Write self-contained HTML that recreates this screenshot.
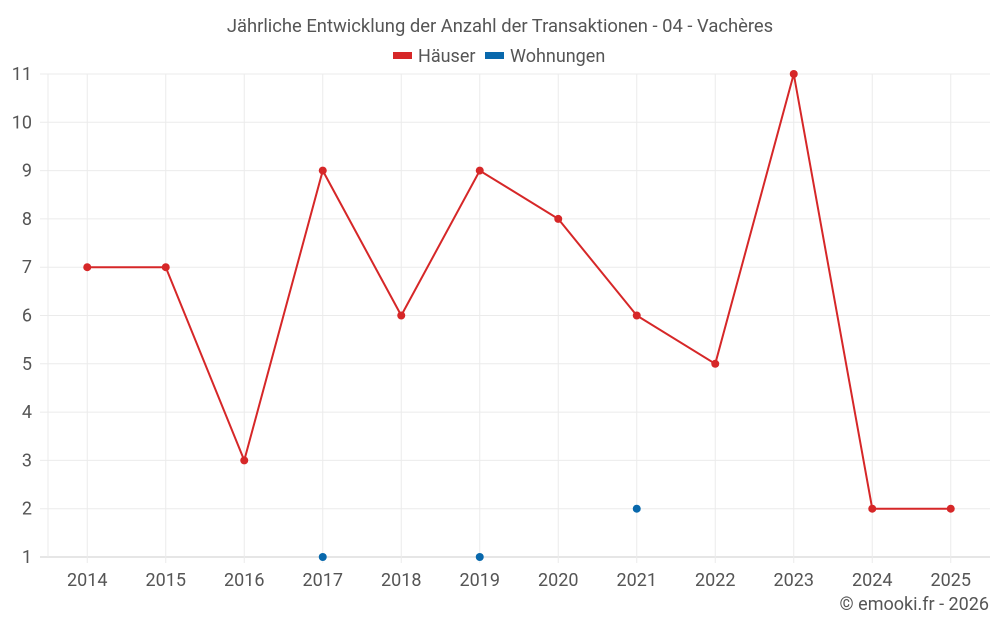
<!DOCTYPE html>
<html><head><meta charset="utf-8">
<style>
html,body{margin:0;padding:0;background:#fff;}
svg{display:block;font-family:"Roboto","Liberation Sans",sans-serif;}
</style></head>
<body>
<svg id="chart" width="1000" height="625">
<text x="500" y="32" text-anchor="middle" font-size="18.4" fill="#555">Jährliche Entwicklung der Anzahl der Transaktionen - 04 - Vachères</text>
<g>
<g><rect x="393" y="52" width="19" height="7" fill="#d62728"/><text x="418" y="62" font-size="18" fill="#555">Häuser</text></g>
<g><rect x="485" y="52" width="19" height="7" fill="#0868ac"/><text x="510" y="62" font-size="18" fill="#555">Wohnungen</text></g>
</g>
<g id="grid"></g>
<g id="axes"></g>
<g id="series"></g>
<text x="989" y="610" text-anchor="end" font-size="18" fill="#555">© emooki.fr - 2026</text>
</svg>
<script>
const years = ["2014","2015","2016","2017","2018","2019","2020","2021","2022","2023","2024","2025"];
const haeuser = [7,7,3,9,6,9,8,6,5,11,2,2];
const wohnungen = [null,null,null,1,null,1,null,2,null,null,null,null];
const yTicks = [1,2,3,4,5,6,7,8,9,10,11];

const NS="http://www.w3.org/2000/svg";
const L=48,R=990,T=74,B=557,yMin=1,yMax=11;
const band=(R-L)/years.length;
function x(i){return L+band*(i+0.5);}
function y(v){return B-(v-yMin)/(yMax-yMin)*(B-T);}
function mk(tag,attrs,parent){const e=document.createElementNS(NS,tag);for(const k in attrs)e.setAttribute(k,attrs[k]);parent.appendChild(e);return e;}
const grid=document.getElementById('grid'),axes=document.getElementById('axes'),series=document.getElementById('series');

yTicks.forEach(v=>{
  const l=mk('line',{x1:40,x2:R,y1:y(v),y2:y(v),stroke:v===yMin?'#ccc':'#ebebeb','stroke-width':1},grid);
  
  
  const t=mk('text',{x:32,y:y(v)+6,'text-anchor':'end','font-size':18,fill:'#555'},axes);
  t.textContent=v;
  
  
});
const vl=mk('line',{x1:L,x2:L,y1:T,y2:B,stroke:'#ebebeb'},grid);


years.forEach((yr,i)=>{
  const g=mk('line',{x1:x(i),x2:x(i),y1:T,y2:B+6,stroke:'#ebebeb'},grid);
  
  
  const t=mk('text',{x:x(i),y:586,'text-anchor':'middle','font-size':18,fill:'#555'},axes);
  t.textContent=yr;
  
  
});

const pts=haeuser.map((v,i)=>x(i)+','+y(v)).join(' ');
const pl=mk('polyline',{points:pts,fill:'none',stroke:'#d62728','stroke-width':2},series);


haeuser.forEach((v,i)=>{
  const c=mk('circle',{cx:x(i),cy:y(v),r:4,fill:'#d62728'},series);
  
  
});
wohnungen.forEach((v,i)=>{
  if(v===null)return;
  const c=mk('circle',{cx:x(i),cy:y(v),r:4,fill:'#0868ac'},series);
  
  
});
</script>
</body></html>
